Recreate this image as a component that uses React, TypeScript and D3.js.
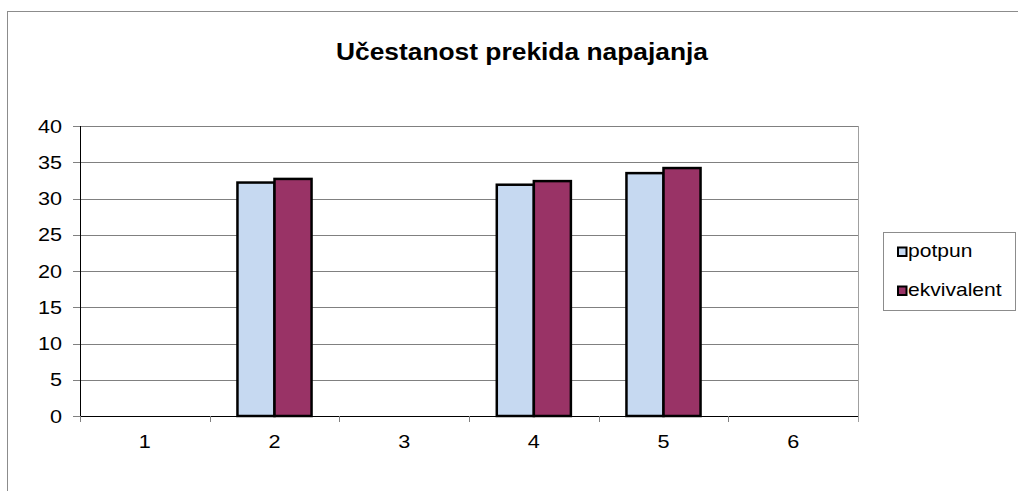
import React from 'react'
import * as d3 from 'd3'

const categories = ['1', '2', '3', '4', '5', '6']
const potpun = [0, 32.2, 0, 31.9, 33.5, 0]
const ekvivalent = [0, 32.7, 0, 32.4, 34.2, 0]
const yTicks = [0, 5, 10, 15, 20, 25, 30, 35, 40]
const seriesNames = ['potpun', 'ekvivalent']
const seriesColors = ['#C6D9F1', '#993366']

const width = 1018
const height = 491
const plot = { left: 80, right: 858, top: 126, bottom: 416 }
const font = 'Arial, "Liberation Sans", sans-serif'
// the reference is a bit stretched sideways, so text is widened to match
const sx = 1.17

const App = () => {
  const x = d3
    .scaleBand<string>()
    .domain(categories)
    .range([plot.left, plot.right])
  const step = x.step()
  const barW = step / 3.5 // gap width 150%
  const y = d3.scaleLinear().domain([0, 40]).range([plot.bottom, plot.top])
  const series = [potpun, ekvivalent]

  return (
    <svg
      width={width}
      height={height}
      style={{ position: 'absolute', left: 0, top: 0, background: '#fff' }}
      fontFamily={font}
    >
      {/* chart frame, cut off at the right and bottom */}
      <rect x={7.5} y={11.5} width={1100} height={600} fill='#fff' stroke='#8c8c8c' />

      <text x={522} y={60} textAnchor='middle' fontSize={23} fontWeight='bold' textLength={372} lengthAdjust='spacingAndGlyphs'>
        Učestanost prekida napajanja
      </text>

      {/* gridlines + y ticks */}
      {yTicks.map(t => (
        <g key={t}>
          <line x1={plot.left - 7} x2={plot.right} y1={Math.round(y(t)) + 0.5} y2={Math.round(y(t)) + 0.5} stroke='#808080' />
          <text transform={`translate(62,${y(t) + 6.5}) scale(${sx},1)`} textAnchor='end' fontSize={18.5}>{t}</text>
        </g>
      ))}
      <line x1={plot.right + 0.5} x2={plot.right + 0.5} y1={plot.top} y2={plot.bottom + 6} stroke='#a0a0a0' />

      {/* bars */}
      {categories.map((c, i) =>
        series.map((s, j) =>
          s[i] > 0 ? (
            <rect
              key={c + j}
              x={x(c)! + (step - 2 * barW) / 2 + j * barW}
              y={y(s[i])}
              width={barW}
              height={plot.bottom - y(s[i])}
              fill={seriesColors[j]}
              stroke='#000'
              strokeWidth={2.5}
            />
          ) : null
        )
      )}

      {/* axes */}
      <line x1={plot.left + 0.5} x2={plot.left + 0.5} y1={plot.top} y2={plot.bottom} stroke='#000' />
      <line x1={plot.left} x2={plot.right} y1={plot.bottom + 0.5} y2={plot.bottom + 0.5} stroke='#000' />
      {categories.map(c => (
        <g key={c}>
          <line x1={Math.round(x(c)!) + 0.5} x2={Math.round(x(c)!) + 0.5} y1={plot.bottom} y2={plot.bottom + 6} stroke='#808080' />
          <text transform={`translate(${x(c)! + step / 2},448) scale(${sx},1)`} textAnchor='middle' fontSize={18.5}>{c}</text>
        </g>
      ))}

      {/* legend */}
      <rect x={883.5} y={232.5} width={132} height={78} fill='#fff' stroke='#8c8c8c' />
      {seriesNames.map((n, j) => (
        <g key={n}>
          <rect x={898} y={247.5 + j * 39} width={8.5} height={8.5} fill={seriesColors[j]} stroke='#000' strokeWidth={2} />
          <text transform={`translate(908,${257 + j * 39}) scale(${sx},1)`} fontSize={18}>{n}</text>
        </g>
      ))}
    </svg>
  )
}

export default App
